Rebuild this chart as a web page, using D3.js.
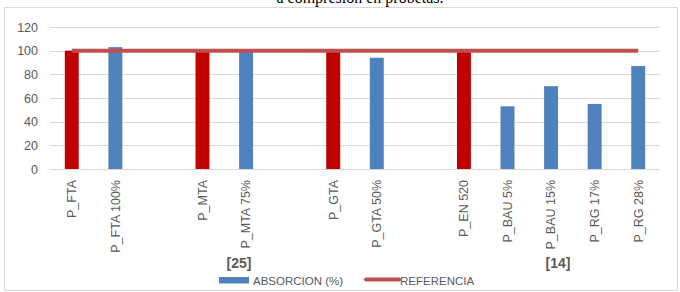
<!DOCTYPE html>
<html>
<head>
<meta charset="utf-8">
<script src="https://cdn.jsdelivr.net/npm/d3@7"></script>
<style>
  body { margin: 0; background: #fff; }
  text { font-family: "Liberation Sans", Arial, sans-serif; }
</style>
</head>
<body>
<div id="chart"></div>
<script>
// empty slots are the gaps between the groups of specimens
const categories = ["P_FTA", "P_FTA 100%", "", "P_MTA", "P_MTA 75%", "", "P_GTA", "P_GTA 50%", "", "P_EN 520", "P_BAU 5%", "P_BAU 15%", "P_RG 17%", "P_RG 28%"];
const absorcion = [100, 103, null, 100, 99, null, 100, 94, null, 100, 53, 70, 55, 87];
const isPatron = [true, false, false, true, false, false, true, false, false, true, false, false, false, false];
const referencia = 100;
const yTicks = [0, 20, 40, 60, 80, 100, 120];
const groupLabels = [{ text: "[25]", at: 4, dx: -7 }, { text: "[14]", at: 11, dx: 7 }];

const width = 680;
const height = 292;

const svg = d3.select("#chart")
    .append("svg")
    .attr("width", width)
    .attr("height", height);

// cut off title from the document above the chart
svg.append("text")
    .attr("x", 360)
    .attr("y", 3)
    .attr("text-anchor", "middle")
    .style("font-family", "'Liberation Serif', serif")
    .style("font-size", "16px")
    .attr("fill", "#000")
    .text("a compresión en probetas.");

svg.append("rect")
    .attr("x", 4.5)
    .attr("y", 7.5)
    .attr("width", 673)
    .attr("height", 283)
    .attr("fill", "none")
    .attr("stroke", "#d9d9d9");

const idx = d3.range(categories.length);

const x = d3.scaleBand()
    .domain(idx)
    .range([50, 660])
    .paddingInner(0.68)
    .paddingOuter(0.34);

const y = d3.scaleLinear()
    .domain([0, 120])
    .range([169, 27]);

const cx = i => x(i) + x.bandwidth() / 2;

// gridlines
svg.append("g")
    .selectAll("line")
    .data(yTicks)
    .join("line")
    .attr("x1", 50)
    .attr("x2", 660)
    .attr("y1", d => Math.round(y(d)) + 0.5)
    .attr("y2", d => Math.round(y(d)) + 0.5)
    .attr("stroke", "#d9d9d9")
    .attr("stroke-width", 1);

// y axis labels
const yAxis = svg.append("g")
    .attr("transform", "translate(50,0)")
    .call(d3.axisLeft(y).tickValues(yTicks).tickSize(0).tickPadding(12));
yAxis.select(".domain").remove();
yAxis.selectAll("text")
    .attr("fill", "#595959")
    .style("font-size", "12.5px")
    .style("font-family", "'Liberation Sans', Arial, sans-serif");

// bars
svg.append("g")
    .selectAll("rect")
    .data(idx.filter(i => absorcion[i] !== null))
    .join("rect")
    .attr("x", i => x(i))
    .attr("width", x.bandwidth())
    .attr("y", i => y(absorcion[i]))
    .attr("height", i => y(0) - y(absorcion[i]))
    .attr("fill", i => isPatron[i] ? "#c00000" : "#4f81bd");

// x axis
const xAxis = svg.append("g")
    .attr("transform", `translate(0,${y(0)})`)
    .call(d3.axisBottom(x).tickSize(0).tickFormat(i => categories[i]));
xAxis.select(".domain")
    .attr("stroke", "#d9d9d9")
    .attr("d", "M50,0.5H660");
xAxis.selectAll("text")
    .attr("fill", "#595959")
    .style("font-size", "12.5px")
    .style("font-family", "'Liberation Sans', Arial, sans-serif")
    .attr("text-anchor", "end")
    .attr("transform", "translate(0,11) rotate(-90)")
    .attr("x", 0)
    .attr("y", 0)
    .attr("dy", "0.35em");

// reference line
svg.append("line")
    .attr("x1", cx(0))
    .attr("x2", cx(categories.length - 1))
    .attr("y1", y(referencia))
    .attr("y2", y(referencia))
    .attr("stroke", "#c0504d")
    .attr("stroke-width", 4);

// group citations
svg.append("g")
    .selectAll("text")
    .data(groupLabels)
    .join("text")
    .attr("x", d => cx(d.at) + d.dx)
    .attr("y", 268)
    .attr("text-anchor", "middle")
    .attr("fill", "#595959")
    .style("font-size", "14px")
    .style("font-weight", "bold")
    .text(d => d.text);

// legend
const legend = svg.append("g");
legend.append("rect")
    .attr("x", 219)
    .attr("y", 277)
    .attr("width", 30)
    .attr("height", 6.5)
    .attr("fill", "#4f81bd");
legend.append("text")
    .attr("x", 253)
    .attr("y", 285)
    .attr("fill", "#595959")
    .style("font-size", "11.5px")
    .text("ABSORCION (%)");
legend.append("line")
    .attr("x1", 366)
    .attr("x2", 399)
    .attr("y1", 279.5)
    .attr("y2", 279.5)
    .attr("stroke", "#c0504d")
    .attr("stroke-width", 4)
    .attr("stroke-linecap", "round");
legend.append("text")
    .attr("x", 400)
    .attr("y", 285)
    .attr("fill", "#595959")
    .style("font-size", "11.5px")
    .text("REFERENCIA");
</script>
</body>
</html>
